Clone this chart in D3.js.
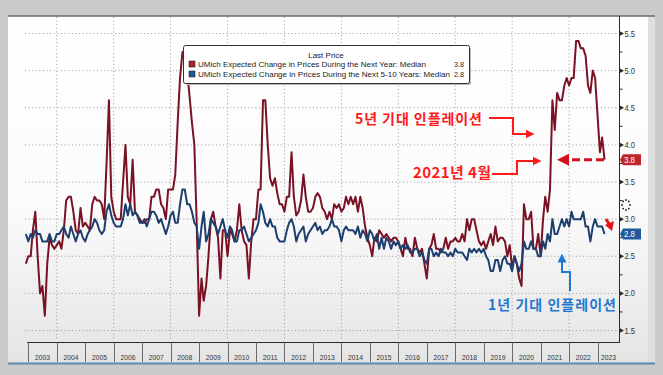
<!DOCTYPE html>
<html>
<head>
<meta charset="utf-8">
<script src="https://cdn.jsdelivr.net/npm/d3@7"></script>
<style>
  body { margin: 0; background: #cbcbcb; }
  svg { display: block; }
  text { font-family: "Liberation Sans", Arial, sans-serif; }
  .kr { font-family: "Noto Sans CJK KR", sans-serif; font-weight: 700; }
</style>
</head>
<body>
<script>
// UMich survey, monthly medians, first value = Nov 2002
const startYear = 2002, startMonth = 10;

// expected change in prices, next year (red)
const oneYear = [
  2.4, 2.5,
  2.5, 2.85, 3.1, 2.5, 2.0, 2.1, 1.7, 2.4, 2.75, 2.65, 2.6, 2.65,
  2.7, 2.6, 2.85, 3.25, 3.3, 3.3, 3.1, 2.85, 2.8, 3.15, 2.9, 2.95,
  2.9, 2.85, 3.2, 3.3, 3.25, 3.25, 3.2, 3.0, 3.75, 4.6, 3.3, 3.1,
  3.0, 3.0, 3.0, 3.5, 4.0, 3.3, 3.2, 3.8, 3.1, 3.05, 3.0, 2.95,
  2.95, 3.0, 3.0, 3.3, 3.3, 3.4, 3.4, 3.2, 3.15, 3.0, 3.4, 3.4,
  3.4, 3.6, 4.3, 4.9, 5.25, 5.15, 5.0, 4.65, 4.3, 4.0, 2.95, 1.7,
  2.2, 1.9, 2.1, 2.5, 3.0, 3.1, 2.9, 2.75, 2.2, 2.85, 2.85, 2.5,
  2.85, 2.8, 2.7, 2.85, 3.2, 2.85, 2.7, 2.65, 2.2, 2.7, 3.0, 3.0,
  3.4, 3.4, 4.6, 4.6, 4.0, 3.55, 3.45, 3.55, 3.35, 3.2, 3.2, 3.1,
  3.3, 3.3, 3.9, 3.3, 3.05, 3.1, 3.25, 3.6, 3.3, 3.1, 3.1, 3.15,
  3.3, 3.35, 3.3, 3.15, 3.1, 3.0, 3.1, 3.0, 3.2, 3.15, 3.2, 3.1,
  3.15, 3.3, 3.2, 3.3, 3.2, 3.3, 3.1, 3.3, 3.15, 2.9, 2.75, 2.65,
  2.5, 2.75, 2.7, 2.85, 2.8, 2.75, 2.8, 2.75, 2.7, 2.75, 2.75, 2.7,
  2.6, 2.5, 2.75, 2.6, 2.6, 2.5, 2.75, 2.6, 2.55, 2.6, 2.4, 2.2,
  2.6, 2.65, 2.8, 2.6, 2.6, 2.55, 2.6, 2.75, 2.6, 2.7, 2.7, 2.75,
  2.7, 2.7, 2.8, 2.7, 3.0, 2.85, 3.0, 3.0, 2.85, 2.7, 2.65, 2.7,
  2.6, 2.7, 2.8, 2.65, 2.9, 2.7, 2.75, 2.75, 2.7, 2.5, 2.65, 2.35,
  2.5, 2.4, 2.2, 2.1, 3.2, 3.0, 3.0, 3.1, 2.6, 2.6, 2.8, 2.5,
  3.0, 3.3, 3.1, 3.4, 4.6, 4.2, 4.7, 4.6, 4.6, 4.8, 4.9, 4.8,
  4.9, 4.9, 5.4, 5.4, 5.3, 5.3, 5.2, 4.8, 4.7, 5.0, 4.9, 4.4,
  3.9, 4.1, 3.8
];

// expected change in prices, next 5-10 years (blue)
const fiveTenYear = [
  2.8, 2.7,
  2.8, 2.75, 2.85, 2.8, 2.8, 2.7, 2.7, 2.7, 2.8, 2.7, 2.7, 2.8,
  2.8, 2.85, 2.9, 2.8, 2.75, 2.9, 2.8, 2.7, 2.8, 2.85, 2.75, 2.7,
  2.8, 2.85, 2.9, 3.0, 2.95, 2.85, 2.8, 2.85, 3.1, 3.2, 3.05, 2.95,
  2.9, 2.9, 2.9, 3.0, 3.2, 3.05, 3.2, 3.05, 3.1, 3.05, 2.95, 2.95,
  3.0, 2.9, 3.0, 3.1, 3.1, 3.05, 2.95, 3.0, 2.9, 2.8, 2.9, 3.05,
  3.1, 2.95, 2.95, 3.2, 3.4, 3.4, 3.2, 3.2, 3.1, 2.95, 2.9, 2.6,
  2.9, 3.1, 2.7, 2.8, 3.0, 2.95, 2.9, 2.8, 2.9, 3.0, 2.85, 2.75,
  2.9, 2.85, 2.7, 2.7, 2.85, 2.85, 2.9, 2.8, 2.7, 2.75, 2.8, 2.85,
  2.95, 3.2, 3.1, 2.95, 2.9, 3.0, 2.9, 2.9, 2.75, 2.7, 2.7, 2.7,
  2.85, 2.95, 3.0, 2.9, 2.7, 2.8, 2.85, 2.9, 2.7, 2.8, 2.85, 2.9,
  2.95, 2.85, 2.9, 2.8, 2.85, 2.85, 2.9, 3.0, 2.9, 2.9, 2.85, 2.7,
  2.85, 2.9, 2.85, 2.85, 2.85, 2.8, 2.9, 2.75, 2.85, 2.8, 2.7, 2.85,
  2.8, 2.7, 2.8, 2.6, 2.75, 2.6, 2.75, 2.7, 2.6, 2.7, 2.65, 2.7,
  2.6, 2.65, 2.6, 2.65, 2.55, 2.55, 2.6, 2.6, 2.5, 2.55, 2.45, 2.4,
  2.6, 2.6, 2.5, 2.55, 2.5, 2.6, 2.55, 2.55, 2.5, 2.55, 2.5, 2.6,
  2.55, 2.55, 2.55, 2.5, 2.45, 2.6, 2.55, 2.6, 2.55, 2.6, 2.55, 2.6,
  2.5, 2.45, 2.3, 2.3, 2.45, 2.45, 2.3, 2.45, 2.5, 2.4, 2.4, 2.3,
  2.5, 2.4, 2.3, 2.4, 2.7, 2.6, 2.6, 2.7, 2.6, 2.6, 2.5, 2.5,
  2.7, 2.6, 2.8, 2.7, 3.0, 2.8, 2.8, 2.9, 3.0, 2.9, 3.0, 2.9,
  3.1, 3.0, 3.0, 3.0, 3.0, 3.1, 2.9, 2.9, 2.7, 2.9, 3.0, 2.9,
  2.9, 2.9, 2.8
];

const years = d3.range(2003, 2024);
const yTicks = [1.5, 2.0, 2.5, 3.0, 3.5, 4.0, 4.5, 5.0, 5.5];
const gridYears = [2004, 2006, 2008, 2010, 2012, 2014, 2016, 2018, 2020, 2022];
const legendTitle = "Last Price";
const legendRows = [
  { name: "UMich Expected Change in Prices During the Next Year: Median", last: "3.8" },
  { name: "UMich Expected Change in Prices During the Next 5-10 Years: Median", last: "2.8" }
];

const W = 663, H = 375;
const red = "#7a1124", blue = "#1d3f6f";

// month k -> plotted at month end
function monthDate(k) { return new Date(startYear, startMonth + k + 1, 1); }

var svg = d3.select("body").append("svg")
  .attr("width", W).attr("height", H);

var defs = svg.append("defs");
var grad = defs.append("linearGradient").attr("id", "panelG")
  .attr("x1", 0).attr("y1", 0).attr("x2", 0).attr("y2", 1);
grad.append("stop").attr("offset", "0%").attr("stop-color", "#ffffff");
grad.append("stop").attr("offset", "55%").attr("stop-color", "#fbfbfb");
grad.append("stop").attr("offset", "100%").attr("stop-color", "#e4e4e4");

function arrowMarker(id, color, size) {
  defs.append("marker").attr("id", id)
    .attr("viewBox", "0 0 10 10").attr("refX", 5).attr("refY", 5)
    .attr("markerWidth", size).attr("markerHeight", size)
    .attr("orient", "auto").attr("markerUnits", "userSpaceOnUse")
    .append("path").attr("d", "M0,0 L10,5 L0,10 z").attr("fill", color);
}
arrowMarker("arR", "#ff1a1a", 9);
arrowMarker("arD", "#d3121b", 12);
arrowMarker("arB", "#1f78d1", 9);

// frame
svg.append("rect").attr("width", W).attr("height", H).attr("fill", "#cbcbcb");
svg.append("rect").attr("x", 8).attr("y", 16).attr("width", 640).attr("height", 347)
  .attr("fill", "url(#panelG)");
svg.append("rect").attr("x", 648).attr("y", 16).attr("width", 7).attr("height", 347)
  .attr("fill", "#dedede");
svg.append("line").attr("x1", 8).attr("x2", 655).attr("y1", 16).attr("y2", 16)
  .attr("stroke", "#6a6a6a").attr("stroke-width", 1.5);
svg.append("line").attr("x1", 8).attr("x2", 655).attr("y1", 363.5).attr("y2", 363.5)
  .attr("stroke", "#5d87ae").attr("stroke-width", 2);

var x = d3.scaleTime()
  .domain([new Date(2003, 0, 1), new Date(2023, 9, 10)])
  .range([28.3, 619.5]);
var y = d3.scaleLinear().domain([1.5, 5.5]).range([330.5, 33.5]);

// grid
svg.append("g").selectAll("line").data(yTicks).enter().append("line")
  .attr("x1", 25).attr("x2", 618)
  .attr("y1", d => y(d)).attr("y2", d => y(d))
  .attr("stroke", "#9a9a9a").attr("stroke-dasharray", "1,2.6");
svg.append("g").selectAll("line").data(gridYears).enter().append("line")
  .attr("x1", d => x(new Date(d, 0, 1))).attr("x2", d => x(new Date(d, 0, 1)))
  .attr("y1", 17).attr("y2", 341)
  .attr("stroke", "#9a9a9a").attr("stroke-dasharray", "1,2.6");

// right axis
var yAxis = svg.append("g").attr("transform", "translate(619.5,0)");
yAxis.append("line").attr("y1", 16).attr("y2", 342.5).attr("stroke", "#2a2a2a");
yAxis.selectAll(".minor").data(d3.range(1.5, 5.51, 0.25)).enter().append("line")
  .attr("x1", 0).attr("x2", 3).attr("y1", d => y(d)).attr("y2", d => y(d))
  .attr("stroke", "#2a2a2a");
yAxis.selectAll(".tri").data(yTicks).enter().append("path")
  .attr("d", d => "M0," + (y(d) - 2.5) + " L4.5," + y(d) + " L0," + (y(d) + 2.5) + "z")
  .attr("fill", "#2a2a2a");
yAxis.selectAll(".lbl").data(yTicks).enter().append("text")
  .attr("x", 5).attr("y", d => y(d) + 3)
  .attr("font-size", 8.5).attr("fill", "#333")
  .attr("textLength", 10.5).attr("lengthAdjust", "spacingAndGlyphs")
  .text(d => d.toFixed(1));

// bottom axis with year boxes
svg.append("line").attr("x1", 27).attr("x2", 620).attr("y1", 342.5).attr("y2", 342.5)
  .attr("stroke", "#2a2a2a");
var xg = svg.append("g");
xg.selectAll("line").data(years).enter().append("line")
  .attr("x1", d => Math.round(x(new Date(d, 0, 1))) + 0.5)
  .attr("x2", d => Math.round(x(new Date(d, 0, 1))) + 0.5)
  .attr("y1", 342.5).attr("y2", 362)
  .attr("stroke", "#6a6a6a");
xg.selectAll("text").data(years).enter().append("text")
  .attr("x", d => (x(new Date(d, 0, 1)) + Math.min(x(new Date(d + 1, 0, 1)), 619.5)) / 2)
  .attr("y", 360).attr("text-anchor", "middle")
  .attr("font-size", 8).attr("fill", "#333")
  .attr("textLength", 15).attr("lengthAdjust", "spacingAndGlyphs")
  .text(d => d);

// series
var line = d3.line()
  .x((d, i) => x(monthDate(i)))
  .y(d => y(d));
svg.append("path").datum(oneYear).attr("d", line)
  .attr("fill", "none").attr("stroke", red).attr("stroke-width", 2)
  .attr("stroke-linejoin", "round");
svg.append("path").datum(fiveTenYear).attr("d", line)
  .attr("fill", "none").attr("stroke", blue).attr("stroke-width", 2)
  .attr("stroke-linejoin", "round");

// last value tags
function tag(v, color) {
  var cy = y(v);
  svg.append("path")
    .attr("d", "M620," + cy + " L623," + (cy - 5.5) + " L641," + (cy - 5.5) +
      " L641," + (cy + 5.5) + " L623," + (cy + 5.5) + "z")
    .attr("fill", color);
  svg.append("text").attr("x", 624).attr("y", cy + 3)
    .attr("font-size", 8.5).attr("fill", "#fff")
    .attr("textLength", 11).attr("lengthAdjust", "spacingAndGlyphs")
    .text(v.toFixed(1));
}
tag(oneYear[oneYear.length - 1], "#c0252c");
tag(fiveTenYear[fiveTenYear.length - 1], "#1f5a9c");

// legend
var lg = svg.append("g");
lg.append("rect").attr("x", 185).attr("y", 47).attr("width", 286).attr("height", 38)
  .attr("fill", "#bbb").attr("rx", 2);
lg.append("rect").attr("x", 183.5).attr("y", 45.5).attr("width", 286).attr("height", 38)
  .attr("fill", "#fff").attr("stroke", "#333").attr("rx", 2);
lg.append("text").attr("x", 326).attr("y", 57.5).attr("text-anchor", "middle")
  .attr("font-size", 8).attr("fill", "#222").text(legendTitle);
lg.selectAll(".sw").data(legendRows).enter().append("rect")
  .attr("x", 189).attr("y", (d, i) => 61 + i * 10).attr("width", 6).attr("height", 6)
  .attr("fill", (d, i) => i ? "#1f5a9c" : "#b01f2c").attr("stroke", "#222").attr("stroke-width", 0.6);
lg.selectAll(".nm").data(legendRows).enter().append("text")
  .attr("x", 198).attr("y", (d, i) => 67 + i * 10)
  .attr("font-size", 7.2).attr("fill", "#1a1a1a")
  .attr("textLength", (d, i) => i ? 252 : 228).attr("lengthAdjust", "spacingAndGlyphs")
  .text(d => d.name);
lg.selectAll(".lv").data(legendRows).enter().append("text")
  .attr("x", 464).attr("y", (d, i) => 67 + i * 10).attr("text-anchor", "end")
  .attr("font-size", 7.2).attr("fill", "#1a1a1a")
  .text(d => d.last);

// annotations
svg.append("text").attr("class", "kr").attr("x", 355).attr("y", 124)
  .attr("font-size", 14).attr("fill", "#ff1a1a")
  .attr("textLength", 127).attr("lengthAdjust", "spacing")
  .text("5년 기대 인플레이션");
svg.append("path").attr("d", "M489,118 H513 V134 H530")
  .attr("fill", "none").attr("stroke", "#ff1a1a").attr("stroke-width", 2)
  .attr("marker-end", "url(#arR)");

svg.append("text").attr("class", "kr").attr("x", 413).attr("y", 178)
  .attr("font-size", 15).attr("fill", "#ff1a1a")
  .attr("textLength", 78).attr("lengthAdjust", "spacing")
  .text("2021년 4월");
svg.append("path").attr("d", "M492,174 H517 V161 H537")
  .attr("fill", "none").attr("stroke", "#ff1a1a").attr("stroke-width", 2)
  .attr("marker-end", "url(#arR)");

svg.append("path").attr("d", "M604," + y(3.8) + " H563")
  .attr("fill", "none").attr("stroke", "#d3121b").attr("stroke-width", 3)
  .attr("stroke-dasharray", "8,4").attr("marker-end", "url(#arD)");

svg.append("text").attr("class", "kr").attr("x", 488).attr("y", 310)
  .attr("font-size", 14).attr("fill", "#1f78d1")
  .attr("textLength", 128).attr("lengthAdjust", "spacing")
  .text("1년 기대 인플레이션");
svg.append("path").attr("d", "M570,291 V272 H562 V258")
  .attr("fill", "none").attr("stroke", "#1f78d1").attr("stroke-width", 2)
  .attr("marker-end", "url(#arB)");

// small red pointer near the blue tail
svg.append("path").attr("d", "M606,219 L609,224")
  .attr("stroke", "#e0141b").attr("stroke-width", 3);
svg.append("path").attr("d", "M605,225 L614,221 L612,231 z").attr("fill", "#e0141b");

// busy cursor dots
svg.append("g").selectAll("circle").data(d3.range(8)).enter().append("circle")
  .attr("cx", d => 626 + 4 * Math.cos(d * Math.PI / 4))
  .attr("cy", d => 205 + 5 * Math.sin(d * Math.PI / 4))
  .attr("r", 0.9).attr("fill", "#222");
</script>
</body>
</html>
